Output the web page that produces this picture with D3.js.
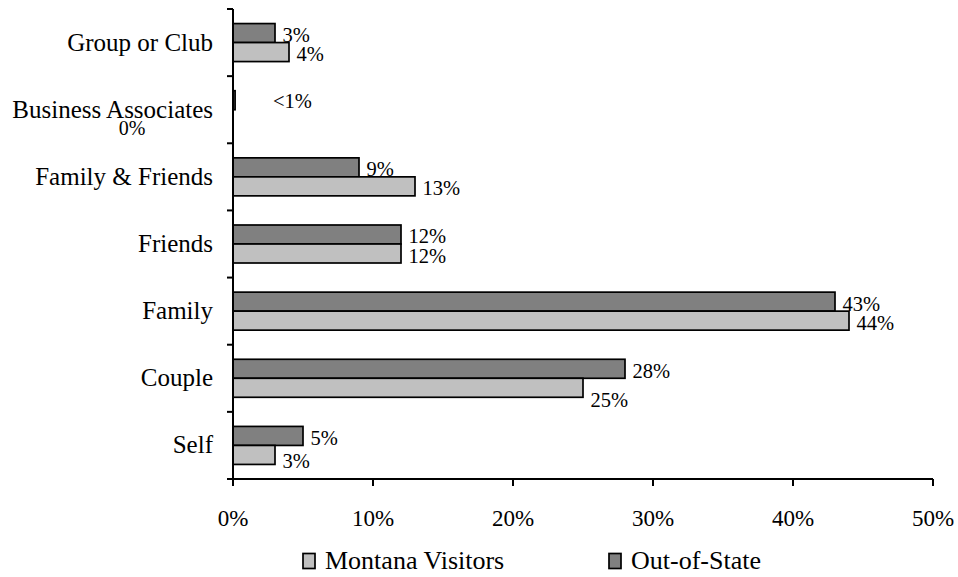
<!DOCTYPE html>
<html>
<head>
<meta charset="utf-8">
<script src="https://cdn.jsdelivr.net/npm/d3@7"></script>
<style>
  body { margin: 0; background: #fff; }
</style>
</head>
<body>
<svg id="chart" width="958" height="577"></svg>
<script>
// ---- data ----
const categories = ["Group or Club", "Business Associates", "Family & Friends", "Friends", "Family", "Couple", "Self"];
const montanaVisitors = [4, 0, 13, 12, 44, 25, 3];
const outOfState = [3, 0.15, 9, 12, 43, 28, 5];
const montanaLabels = ["4%", "0%", "13%", "12%", "44%", "25%", "3%"];
const outOfStateLabels = ["3%", "<1%", "9%", "12%", "43%", "28%", "5%"];
const xTicks = [0, 10, 20, 30, 40, 50];
const seriesNames = ["Montana Visitors", "Out-of-State"];

// ---- layout ----
const FONT = "'Liberation Serif', 'Times New Roman', Tinos, serif";
const svg = d3.select("#chart").attr("font-family", FONT);
const mLeft = 233, mRight = 933, mTop = 9, mBottom = 479;
const colors = { mt: "#c0c0c0", os: "#808080" };

const x = d3.scaleLinear().domain([0, 50]).range([mLeft, mRight]);
const y = d3.scaleBand().domain(categories).range([mTop, mBottom]).paddingInner(0.434).paddingOuter(0.217);
const half = y.bandwidth() / 2;

const g = svg.append("g");

// bars
categories.forEach((c, i) => {
  g.append("rect")
    .attr("x", x(0)).attr("y", y(c))
    .attr("width", x(outOfState[i]) - x(0)).attr("height", half)
    .attr("fill", colors.os).attr("stroke", "#000").attr("stroke-width", 1.7);
  if (montanaVisitors[i] > 0) {
    g.append("rect")
      .attr("x", x(0)).attr("y", y(c) + half)
      .attr("width", x(montanaVisitors[i]) - x(0)).attr("height", half)
      .attr("fill", colors.mt).attr("stroke", "#000").attr("stroke-width", 1.7);
  }
});

// value labels
const labelSize = 20.5;
categories.forEach((c, i) => {
  const yc1 = y(c) + half / 2;
  const yc2 = y(c) + half * 1.5;
  let ox = x(outOfState[i]) + 7.5, oy = yc1 + 9;
  if (outOfStateLabels[i] === "<1%") { ox = x(0) + 40; oy = yc1 + 8; }
  g.append("text").attr("x", ox).attr("y", oy).attr("font-family", FONT)
    .attr("font-size", labelSize).text(outOfStateLabels[i]);

  let mx = x(montanaVisitors[i]) + 7.5, my = yc2 + 9, anchor = "start";
  if (montanaVisitors[i] === 0) { mx = 132; my = y(c) + y.bandwidth() + 6; anchor = "middle"; }
  if (montanaLabels[i] === "25%") my += 10;
  if (c === "Self") my += 4;
  g.append("text").attr("x", mx).attr("y", my).attr("text-anchor", anchor).attr("font-family", FONT)
    .attr("font-size", montanaVisitors[i] === 0 ? 20 : labelSize).text(montanaLabels[i]);
});

// y axis
g.append("line").attr("x1", mLeft).attr("x2", mLeft).attr("y1", mTop).attr("y2", mBottom)
  .attr("stroke", "#000").attr("stroke-width", 2);
const boundaries = categories.map(c => y(c) - y.step() * y.paddingInner() / 2);
boundaries.push(mBottom);
boundaries.forEach(b => {
  g.append("line").attr("x1", mLeft - 6).attr("x2", mLeft).attr("y1", b).attr("y2", b)
    .attr("stroke", "#000").attr("stroke-width", 2);
});
categories.forEach(c => {
  g.append("text").attr("x", 213).attr("y", y(c) + half + 8).attr("font-family", FONT)
    .attr("text-anchor", "end").attr("font-size", 25).text(c);
});

// x axis
g.append("line").attr("x1", mLeft).attr("x2", mRight).attr("y1", mBottom).attr("y2", mBottom)
  .attr("stroke", "#000").attr("stroke-width", 2);
xTicks.forEach(t => {
  g.append("line").attr("x1", x(t)).attr("x2", x(t)).attr("y1", mBottom).attr("y2", mBottom + 7)
    .attr("stroke", "#000").attr("stroke-width", 2);
  g.append("text").attr("x", x(t)).attr("y", 526).attr("text-anchor", "middle").attr("font-family", FONT)
    .attr("font-size", 23).text(t + "%");
});

// legend
const legendItems = [
  { name: seriesNames[0], color: colors.mt, sx: 303 },
  { name: seriesNames[1], color: colors.os, sx: 609 }
];
legendItems.forEach(it => {
  g.append("rect").attr("x", it.sx).attr("y", 553.5).attr("width", 12).attr("height", 15)
    .attr("fill", it.color).attr("stroke", "#000").attr("stroke-width", 1.7);
  g.append("text").attr("x", it.sx + 22).attr("y", 569).attr("font-family", FONT)
    .attr("font-size", 26).text(it.name);
});
</script>
</body>
</html>
